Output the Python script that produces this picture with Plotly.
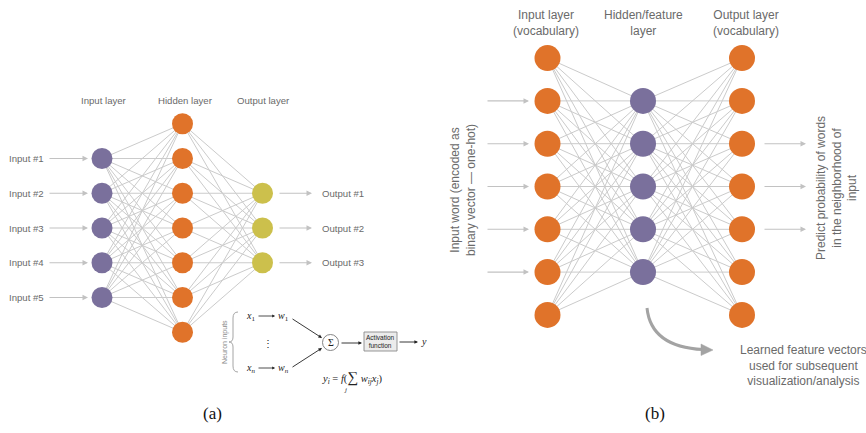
import plotly.graph_objects as go

# ---------------- network definitions ----------------
# Panel (a): generic feed-forward network
A_LAYER_NAMES = ["Input layer", "Hidden layer", "Output layer"]
A_LAYER_SIZES = [5, 7, 3]
A_LAYER_X = [102, 182.5, 262.5]
A_LAYER_COLORS = ["#7a709c", "#e0732a", "#ccc04c"]
A_CENTER_Y = 228
A_SPACING = 34.75
A_NODE_SIZE = 21
A_INPUT_LABELS = ["Input #1", "Input #2", "Input #3", "Input #4", "Input #5"]
A_OUTPUT_LABELS = ["Output #1", "Output #2", "Output #3"]

# Panel (b): word2vec-style network
B_LAYER_NAMES = ["Input layer<br>(vocabulary)", "Hidden/feature<br>layer", "Output layer<br>(vocabulary)"]
B_LAYER_SIZES = [7, 5, 7]
B_LAYER_X = [547.5, 643, 742]
B_LAYER_COLORS = ["#e0732a", "#7a709c", "#e0732a"]
B_CENTER_Y = 186.5
B_SPACING = 42.8
B_NODE_SIZE = 26
B_INPUT_ARROW_ROWS = [1, 2, 3, 4, 5]
B_OUTPUT_ARROW_ROWS = [2, 3, 4]

W, H = 866, 433
SANS = "Liberation Sans, Arial, sans-serif"
SERIF = "Liberation Serif, Times New Roman, serif"
TEXT_GRAY = "#6a6a6a"
EDGE_GRAY = "#cbcbcb"
ARROW_GRAY = "#c2c2c2"
FS_A = 9.6
FS_B = 12


def layer_positions(xs, sizes, cy, spacing):
    out = []
    for x, n in zip(xs, sizes):
        top = cy - spacing * (n - 1) / 2
        out.append([(x, top + spacing * k) for k in range(n)])
    return out


A_POS = layer_positions(A_LAYER_X, A_LAYER_SIZES, A_CENTER_Y, A_SPACING)
B_POS = layer_positions(B_LAYER_X, B_LAYER_SIZES, B_CENTER_Y, B_SPACING)

fig = go.Figure()


def add_edges(pos):
    ex, ey = [], []
    for la, lb in zip(pos[:-1], pos[1:]):
        for (x0, y0) in la:
            for (x1, y1) in lb:
                ex += [x0, x1, None]
                ey += [y0, y1, None]
    fig.add_trace(go.Scatter(x=ex, y=ey, mode="lines",
                             line=dict(color=EDGE_GRAY, width=1),
                             hoverinfo="skip", showlegend=False))


def add_nodes(pos, colors, size):
    for layer, c in zip(pos, colors):
        fig.add_trace(go.Scatter(x=[p[0] for p in layer], y=[p[1] for p in layer],
                                 mode="markers",
                                 marker=dict(size=size, color=c, line=dict(width=0)),
                                 hoverinfo="skip", showlegend=False))


add_edges(A_POS)
add_edges(B_POS)
add_nodes(A_POS, A_LAYER_COLORS, A_NODE_SIZE)
add_nodes(B_POS, B_LAYER_COLORS, B_NODE_SIZE)

ann = []


def text(x, y, s, size, color=TEXT_GRAY, family=SANS, xanchor="center", angle=0):
    ann.append(dict(x=x, y=y, xref="x", yref="y", text=s, showarrow=False,
                    font=dict(size=size, color=color, family=family),
                    xanchor=xanchor, yanchor="middle", textangle=angle))


def arrow(x0, y0, x1, y1, color=ARROW_GRAY, width=1.1, size=1.0, head=2):
    ann.append(dict(x=x1, y=y1, ax=x0, ay=y0, xref="x", yref="y", axref="x", ayref="y",
                    text="", showarrow=True, arrowhead=head, arrowsize=size,
                    arrowwidth=width, arrowcolor=color, standoff=0, startstandoff=0))


# ---- panel (a) labels and arrows ----
for name, x in zip(A_LAYER_NAMES, [104, 185, 263]):
    text(x, 100, name, FS_A)
for (x, y), lab in zip(A_POS[0], A_INPUT_LABELS):
    text(7, y, lab, FS_A, xanchor="left")
    arrow(48, y, 88, y)
for (x, y), lab in zip(A_POS[-1], A_OUTPUT_LABELS):
    arrow(278, y, 312, y)
    text(320, y, lab, FS_A, xanchor="left")

# ---- neuron detail ----
BLACK = "#222222"
text(250, 316, "<i>x</i><sub>1</sub>", 10, BLACK, SERIF)
text(250, 368, "<i>x<sub>n</sub></i>", 10, BLACK, SERIF)
text(283, 316, "<i>w</i><sub>1</sub>", 10, BLACK, SERIF)
text(283, 368, "<i>w<sub>n</sub></i>", 10, BLACK, SERIF)
text(268, 343, "⋮", 10, BLACK, SERIF)
arrow(257, 316, 275, 316, BLACK, 0.8, 0.7)
arrow(257, 368, 275, 368, BLACK, 0.8, 0.7)
arrow(291, 318, 322, 338, BLACK, 0.9, 0.8)
arrow(291, 368, 322, 348, BLACK, 0.9, 0.8)
arrow(340, 343, 362, 343, BLACK, 0.9, 0.8)
arrow(398, 342, 418, 342, BLACK, 0.9, 0.8)
text(424, 341, "<i>y</i>", 10, BLACK, SERIF)
text(330.5, 342.5, "Σ", 10, BLACK, SERIF)
text(380.5, 341.5, "Activation<br>function", 6.5, BLACK, SANS)
text(352, 377,
     "<i>y<sub>i</sub></i> = <i>f</i>(<span style='font-size:15px'>∑</span> "
     "<i>w<sub>ij</sub>x<sub>j</sub></i>)", 10.5, BLACK, SERIF)
text(345.5, 390, "<i>j</i>", 7, BLACK, SERIF)
text(225, 342, "Neuron inputs", 7, "#8a8a8a", SANS, angle=-90)

shapes = [
    dict(type="circle", xref="x", yref="y", x0=322.5, x1=338.5, y0=334.5, y1=350.5,
         line=dict(color="#777777", width=0.9), fillcolor="white"),
    dict(type="rect", xref="x", yref="y", x0=364, x1=397, y0=332, y1=351,
         line=dict(color="#8a8a8a", width=0.9), fillcolor="#ececec"),
    dict(type="path", xref="x", yref="y",
         path="M 238,312 Q 233,312 233,318 L 233,337 Q 233,342 229,342 "
              "Q 233,342 233,347 L 233,366 Q 233,372 238,372",
         line=dict(color="#9a9a9a", width=0.9)),
    dict(type="path", xref="x", yref="y",
         path="M 647,308 Q 651,347 703,349.5",
         line=dict(color="#a3a3a3", width=3)),
    dict(type="path", xref="x", yref="y",
         path="M 701,344 L 713,350 L 701,355.5 Z",
         line=dict(color="#a3a3a3", width=0.5), fillcolor="#a3a3a3"),
]

# ---- panel (b) labels and arrows ----
for name, x in zip(B_LAYER_NAMES, [546, 643, 746]):
    text(x, 23, name, FS_B)
for r in B_INPUT_ARROW_ROWS:
    y = B_POS[0][r][1]
    arrow(486, y, 529, y)
for r in B_OUTPUT_ARROW_ROWS:
    y = B_POS[-1][r][1]
    arrow(763, y, 806, y)
text(463, 190, "Input word (encoded as<br>binary vector — one-hot)", FS_B, angle=-90)
text(836, 188, "Predict probability of words<br>in the neighborhood of<br>input", FS_B, angle=-90)
text(803, 365, "Learned feature vectors<br>used for subsequent<br>visualization/analysis", FS_B)

# ---- captions ----
text(212, 413, "(a)", 17, "#111111", SERIF)
text(655, 413, "(b)", 17, "#111111", SERIF)

fig.update_layout(
    width=W, height=H,
    margin=dict(l=0, r=0, t=0, b=0),
    paper_bgcolor="white", plot_bgcolor="white",
    xaxis=dict(range=[0, W], visible=False, fixedrange=True),
    yaxis=dict(range=[H, 0], visible=False, fixedrange=True),
    annotations=ann, shapes=shapes, showlegend=False,
)

fig.write_html("out.html")
